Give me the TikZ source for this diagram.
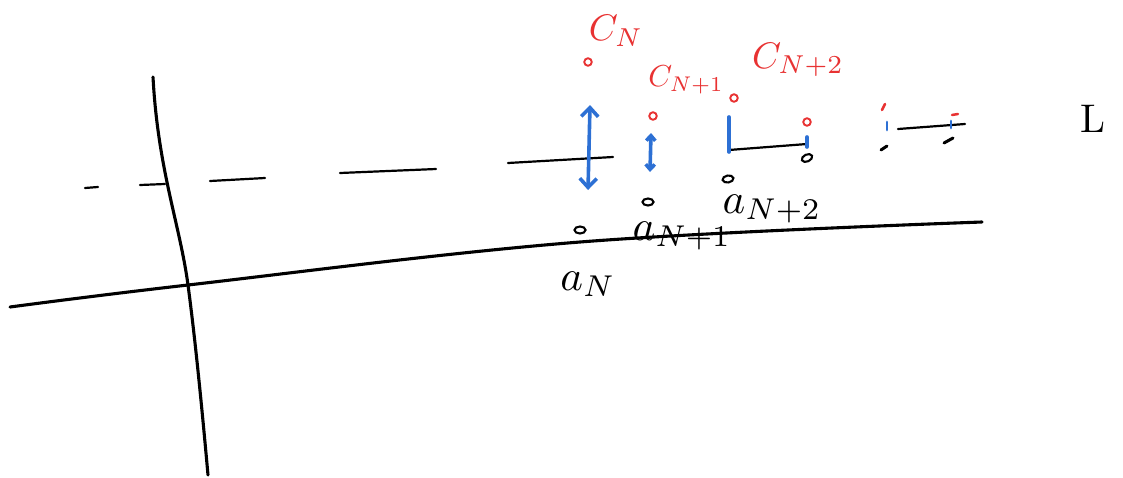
\documentclass[tikz,border=0pt]{standalone}
\usetikzlibrary{arrows.meta,shapes.geometric}
\definecolor{penred}{RGB}{232,50,50}
\definecolor{penblue}{RGB}{45,112,212}
\begin{document}
\begin{tikzpicture}[x=1pt,y=-1pt,
  ink/.style={line width=3.1pt, line cap=round, line join=round},
  thinink/.style={line width=2.2pt, line cap=round},
  blueink/.style={penblue, line width=3.6pt, line cap=round},
  bluearrow/.style={blueink, {Straight Barb[length=9pt,width=17pt]}-{Straight Barb[length=9pt,width=17pt]}},
  smallbluearrow/.style={blueink, {Straight Barb[length=5pt,width=9pt]}-{Straight Barb[length=5pt,width=9pt]}},
  redpt/.style={circle, draw=penred, line width=1.9pt, inner sep=0pt, minimum size=7.5pt},
  blackpt/.style={ellipse, draw=black, line width=2.1pt, inner sep=0pt, minimum width=11pt, minimum height=7pt},
  redlbl/.style={text=penred, scale=3.7},
  blacklbl/.style={scale=4.3},
  redmark/.style={penred, line width=2.5pt, line cap=round},
  blackmark/.style={line width=3pt, line cap=round}]
\useasboundingbox (0,0) rectangle (1123,477);

% axes
\draw[ink] (153,77) .. controls (158,170) and (180,225) .. (188,285) .. controls (196,345) and (203,420) .. (208,475);
\draw[ink] plot[smooth, tension=0.6] coordinates {(10,307) (188,285) (580,242) (982,222)};

% dashed line L
\draw[thinink] (85,188) -- (98,187);
\draw[thinink] (140,185) -- (165,184);
\draw[thinink] (210,181) -- (265,178);
\draw[thinink] (340,173) -- (436,169);
\draw[thinink] (508,163) -- (613,157);
\draw[thinink] (729,150) -- (807,144);
\draw[thinink] (898,129) -- (965,124);
\node[scale=4] (L) at (1093,119) {L};

% points c (red)
\node[redpt] (cN)  at (588,62) {};
\node[redpt] (cN1) at (653,116) {};
\node[redpt] (cN2) at (734,98) {};
\node[redpt] (cN3) at (807,122) {};
\draw[redmark] (882,110) -- (885,104);
\draw[redmark] (952,115) -- (958,114);

% points a (black)
\node[blackpt] (aN)  at (580,230) {};
\node[blackpt] (aN1) at (648,202) {};
\node[blackpt, rotate=10] (aN2) at (728,179) {};
\node[blackpt, rotate=25] (aN3) at (807,158) {};
\draw[blackmark] (881,150) -- (887,146);
\draw[blackmark] (944,143) -- (953,138);

% blue distance markers
\coordinate (bTop)  at (590,105);
\coordinate (bBot)  at (588,190);
\draw[bluearrow] (bTop) -- (bBot);
\coordinate (sTop) at (651,133);
\coordinate (sBot) at (650,172);
\draw[smallbluearrow] (sTop) -- (sBot);
\coordinate (t1a) at (729,117); \coordinate (t1b) at (729,152);
\draw[blueink] (t1a) -- (t1b);
\coordinate (t2a) at (807,137); \coordinate (t2b) at (807,147);
\draw[blueink] (t2a) -- (t2b);
\coordinate (t3a) at (887,122); \coordinate (t3b) at (887,130);
\draw[blueink, line width=2.7pt] (t3a) -- (t3b);
\coordinate (t4a) at (951,121); \coordinate (t4b) at (951,128);
\draw[blueink, line width=2.7pt] (t4a) -- (t4b);

% labels
\node[redlbl] (lcN)  at (616,31) {$C_N$};
\node[redlbl, scale=0.82] (lcN1) at (686,80) {$C_{N+1}$};
\node[redlbl] (lcN2) at (798,60) {$C_{N+2}$};
\node[blacklbl] (laN)  at (588,284) {$a_N$};
\node[blacklbl] (laN1) at (682,236) {$a_{N+1}$};
\node[blacklbl] (laN2) at (772,209) {$a_{N+2}$};
\end{tikzpicture}
\end{document}
